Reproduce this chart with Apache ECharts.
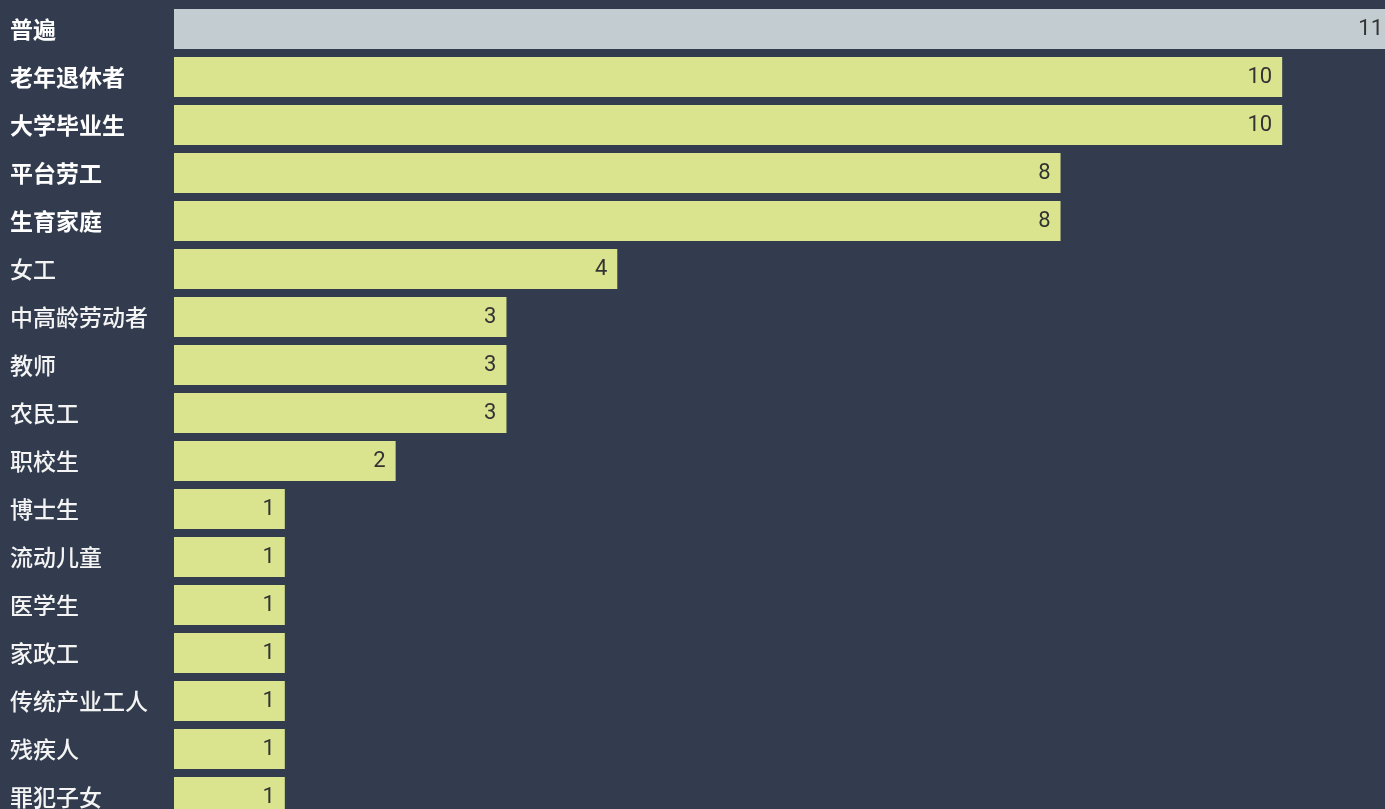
<!DOCTYPE html>
<html><head><meta charset="utf-8">
<script src="https://cdn.jsdelivr.net/npm/echarts@6/dist/echarts.min.js"></script>
<style>html,body{margin:0;padding:0;background:#323c4e;}#c{width:1385px;height:809px;}</style>
</head><body><div id="c"></div>
<script>
const categories = ['普遍','老年退休者','大学毕业生','平台劳工','生育家庭','女工','中高龄劳动者','教师','农民工','职校生','博士生','流动儿童','医学生','家政工','传统产业工人','残疾人','罪犯子女'];
const values = [11,10,10,8,8,4,3,3,3,2,1,1,1,1,1,1,1];
const boldCount = 5;

const chart = echarts.init(document.getElementById('c'));
chart.setOption({
  backgroundColor: '#323c4e',
  animation: false,
  grid: { left: 174, top: 5, width: 1219, height: 816, containLabel: false, outerBoundsMode: 'none' },
  xAxis: { type: 'value', min: 0, max: 11, show: false },
  yAxis: {
    type: 'category', data: categories, inverse: true,
    axisLine: { show: false }, axisTick: { show: false },
    axisLabel: {
      align: 'left', margin: 164, color: '#ffffff', fontSize: 23,
      fontFamily: 'Noto Sans CJK SC',
      formatter: (v, i) => i < boldCount ? '{b|' + v + '}' : '{n|' + v + '}',
      rich: {
        b: { color: '#ffffff', fontSize: 23, fontWeight: 'bold', fontFamily: 'Noto Sans CJK SC' },
        n: { color: '#f4f4f4', fontSize: 23, fontWeight: 500, fontFamily: 'Noto Sans CJK SC' }
      }
    }
  },
  series: [{
    type: 'bar', barWidth: 40,
    data: values.map((v, i) => ({ value: v, itemStyle: { color: i === 0 ? '#c3cdd1' : '#dae48f' } })),
    label: { show: true, position: 'insideRight', distance: 10, color: '#333333', fontSize: 22, fontFamily: 'Roboto' }
  }]
});
</script></body></html>
